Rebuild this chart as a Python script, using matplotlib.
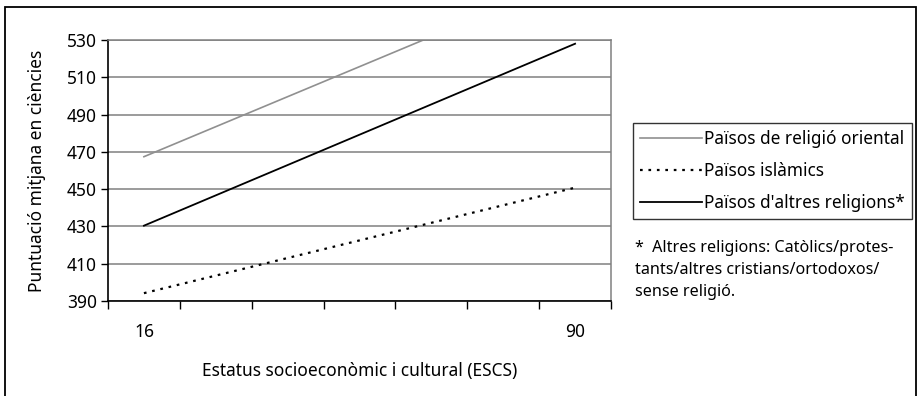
import matplotlib
matplotlib.use("Agg")
import matplotlib.pyplot as plt
from matplotlib.patches import Rectangle

plt.rcParams['font.family'] = ['Noto Sans', 'DejaVu Sans']

# ESCS categories (only the two ends are labelled)
categories = ["16", "", "", "", "", "", "90"]
x_ends = [0, 6]

oriental = [467.4, 564.0]
islamic = [394.2, 450.8]
others = [430.4, 528.0]

series_labels = ["Països de religió oriental", "Països islàmics",
                 "Països d'altres religions*"]
footnote = ("*  Altres religions: Catòlics/protes-\n"
            "tants/altres cristians/ortodoxos/\n"
            "sense religió.")

fig = plt.figure(figsize=(9.19, 3.96), dpi=100)
ax = fig.add_axes([108/919, 1 - 301/396, (611 - 108)/919, (301 - 40)/396])

ax.plot(x_ends, oriental, color="#909090", lw=1.2, label=series_labels[0])
ax.plot(x_ends, islamic, color="black", lw=1.6, ls=(0, (1.2, 2.6)),
        label=series_labels[1])
ax.plot(x_ends, others, color="black", lw=1.3, label=series_labels[2])

ax.set_ylim(390, 530)
ax.set_xlim(-0.5, 6.5)
ax.set_yticks(range(390, 531, 20))
ax.yaxis.grid(True, color="#808080", lw=1.1)
ax.set_axisbelow(True)

ax.set_xticks(range(len(categories)))
ax.set_xticklabels(categories)
ax.set_xticks([i - 0.5 for i in range(len(categories) + 1)], minor=True)
ax.tick_params(axis="x", which="major", length=0, pad=16, labelsize=12.5)
ax.tick_params(axis="x", which="minor", length=6, width=1, color="black")
ax.tick_params(axis="y", length=5, width=1, labelsize=12.5, pad=3)

for s in ["left", "bottom"]:
    ax.spines[s].set_color("black")
    ax.spines[s].set_linewidth(1.2)
for s in ["top", "right"]:
    ax.spines[s].set_color("#808080")
    ax.spines[s].set_linewidth(1.1)

ax.set_ylabel("Puntuació mitjana en ciències", fontsize=12.5, labelpad=15)
ax.set_xlabel("Estatus socioeconòmic i cultural (ESCS)", fontsize=12.5,
              labelpad=15)

leg = ax.legend(loc="upper left", bbox_to_anchor=(633/919, 1 - 123/396),
                bbox_transform=fig.transFigure, fontsize=12.4, frameon=True,
                fancybox=False, edgecolor="black", handlelength=3.6,
                handletextpad=0.15, borderpad=0.4, labelspacing=0.82,
                borderaxespad=0)
leg.get_frame().set_linewidth(1.0)

fig.text(635/919, 1 - 240/396, footnote, fontsize=11.6, va="top", ha="left",
         linespacing=1.5)

fig.patches.append(Rectangle((5/919, -0.02), 911/919, 1 - 7/396 + 0.02,
                             transform=fig.transFigure, fill=False,
                             edgecolor="black", lw=1.3))

fig.savefig("out.png", dpi=100)
